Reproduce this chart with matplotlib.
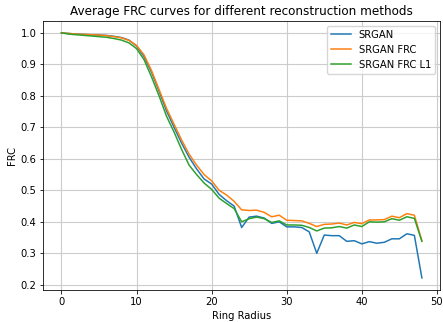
import matplotlib
matplotlib.use("Agg")
import matplotlib.pyplot as plt
import numpy as np

radius = list(range(49))
srgan = [1.0, 0.998, 0.996, 0.995, 0.994, 0.993, 0.992, 0.989, 0.985, 0.977, 0.958,
         0.925, 0.875, 0.815, 0.752, 0.70, 0.65, 0.605, 0.568, 0.536, 0.52,
         0.487, 0.467, 0.45, 0.382, 0.415, 0.418, 0.412, 0.395, 0.40, 0.384,
         0.384, 0.382, 0.368, 0.30, 0.358, 0.356, 0.356, 0.338, 0.34, 0.33,
         0.337, 0.332, 0.335, 0.346, 0.346, 0.362, 0.357, 0.222]
srgan_frc = [1.0, 0.998, 0.996, 0.995, 0.994, 0.993, 0.991, 0.988, 0.984, 0.976, 0.96,
             0.93, 0.88, 0.82, 0.76, 0.71, 0.66, 0.615, 0.58, 0.55, 0.53,
             0.50, 0.485, 0.465, 0.438, 0.436, 0.437, 0.43, 0.416, 0.421, 0.405,
             0.404, 0.403, 0.395, 0.385, 0.392, 0.393, 0.396, 0.39, 0.398, 0.394,
             0.406, 0.406, 0.407, 0.418, 0.413, 0.426, 0.421, 0.34]
srgan_frc_l1 = [1.0, 0.996, 0.994, 0.992, 0.990, 0.988, 0.986, 0.982, 0.977, 0.968, 0.95,
                0.915, 0.86, 0.80, 0.735, 0.685, 0.63, 0.58, 0.55, 0.523, 0.503,
                0.475, 0.458, 0.442, 0.40, 0.41, 0.415, 0.41, 0.398, 0.403, 0.39,
                0.39, 0.389, 0.382, 0.371, 0.38, 0.381, 0.385, 0.38, 0.39, 0.385,
                0.40, 0.399, 0.40, 0.41, 0.405, 0.416, 0.411, 0.338]

s = 0.72
fig, ax = plt.subplots(figsize=(4.43, 3.22), dpi=100)
ax.plot(radius, srgan, color="#1f77b4", lw=1.5 * s, label="SRGAN")
ax.plot(radius, srgan_frc, color="#ff7f0e", lw=1.5 * s, label="SRGAN FRC")
ax.plot(radius, srgan_frc_l1, color="#2ca02c", lw=1.5 * s, label="SRGAN FRC L1")
ax.grid(True, color="#cccccc", lw=0.8)
ax.set_axisbelow(True)
for sp in ax.spines.values():
    sp.set_linewidth(0.8 * s)
ax.set_title("Average FRC curves for different reconstruction methods", fontsize=12 * s, pad=6 * s)
ax.set_xlabel("Ring Radius", fontsize=10 * s, labelpad=4 * s)
ax.set_ylabel("FRC", fontsize=10 * s, labelpad=4 * s)
ax.tick_params(labelsize=10 * s, length=3.5 * s, width=0.8 * s, pad=3.5 * s)
ax.set_xticks([0, 10, 20, 30, 40, 50])
ax.set_yticks([0.2, 0.3, 0.4, 0.5, 0.6, 0.7, 0.8, 0.9, 1.0])
ax.legend(loc="upper right", fontsize=10 * s, frameon=True, borderaxespad=0.5)
fig.subplots_adjust(left=0.098, right=0.993, top=0.936, bottom=0.099)
fig.savefig("out.png", dpi=100)
